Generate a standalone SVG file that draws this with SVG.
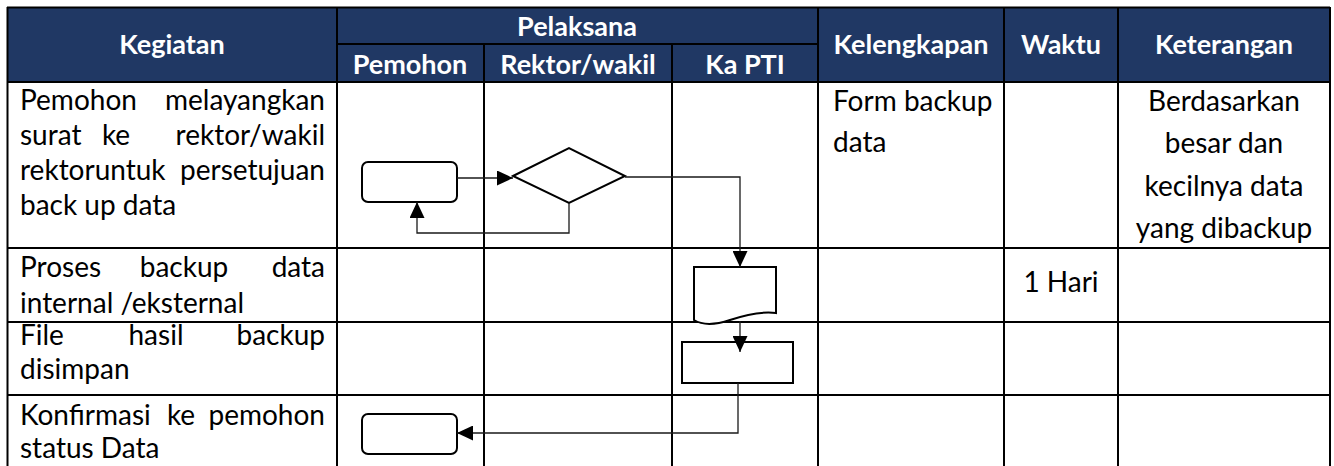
<svg xmlns="http://www.w3.org/2000/svg" width="1334" height="466" viewBox="0 0 1334 466">
  <style>
    .grid { stroke: #000; stroke-width: 2; fill: none; }
    .hdr { font-family: Lato, "Liberation Sans", sans-serif; font-weight: bold; font-size: 27px; fill: #fff; text-anchor: middle; }
    .txt { font-family: Lato, "Liberation Sans", sans-serif; font-size: 28px; fill: #000; }
    .mid { text-anchor: middle; }
    .end { text-anchor: end; }
    .shape { fill: #fff; stroke: #000; stroke-width: 2; }
    .conn { fill: none; stroke: #1a1a1a; stroke-width: 1.3; }
  </style>
  <defs>
    <marker id="arrow" markerUnits="userSpaceOnUse" markerWidth="17" markerHeight="15" refX="16" refY="7.5" orient="auto">
      <path d="M0,0 L16,7.5 L0,15 Z" fill="#000"/>
    </marker>
  </defs>

  <rect width="1334" height="466" fill="#fff"/>

  <!-- header band -->
  <rect x="7" y="7" width="1323" height="75" fill="#203864"/>

  <!-- table rules -->
  <g id="table-grid" class="grid">
    <line x1="7" y1="7.5" x2="1330" y2="7.5"/>
    <line x1="337" y1="44" x2="818" y2="44"/>
    <line x1="7" y1="82" x2="1330" y2="82"/>
    <line x1="7" y1="248" x2="1330" y2="248"/>
    <line x1="7" y1="322" x2="1330" y2="322"/>
    <line x1="7" y1="395" x2="1330" y2="395"/>
    <line x1="7.5" y1="7" x2="7.5" y2="466"/>
    <line x1="337" y1="7" x2="337" y2="466"/>
    <line x1="484" y1="44" x2="484" y2="466"/>
    <line x1="672" y1="44" x2="672" y2="466"/>
    <line x1="818" y1="7" x2="818" y2="466"/>
    <line x1="1004" y1="7" x2="1004" y2="466"/>
    <line x1="1118" y1="7" x2="1118" y2="466"/>
    <line x1="1330" y1="7" x2="1330" y2="466"/>
  </g>

  <!-- column headings -->
  <g id="headings">
    <text class="hdr" x="172" y="54">Kegiatan</text>
    <text class="hdr" x="577" y="36">Pelaksana</text>
    <text class="hdr" x="410" y="74">Pemohon</text>
    <text class="hdr" x="578" y="74">Rektor/wakil</text>
    <text class="hdr" x="745" y="74">Ka PTI</text>
    <text class="hdr" x="911" y="54">Kelengkapan</text>
    <text class="hdr" x="1061" y="54">Waktu</text>
    <text class="hdr" x="1224" y="54">Keterangan</text>
  </g>

  <!-- activity descriptions (justified) -->
  <g id="kegiatan" class="txt">
    <text x="20" y="110">Pemohon</text>
    <text class="end" x="325" y="110">melayangkan</text>
    <text x="20" y="145">surat</text>
    <text class="mid" x="116" y="145">ke</text>
    <text class="end" x="325" y="145">rektor/wakil</text>
    <text x="20" y="180">rektoruntuk</text>
    <text class="end" x="325" y="180">persetujuan</text>
    <text x="20" y="215">back up data</text>

    <text x="20" y="277">Proses</text>
    <text class="mid" x="184" y="277">backup</text>
    <text class="end" x="325" y="277">data</text>
    <text x="20" y="313">internal /eksternal</text>

    <text x="20" y="345">File</text>
    <text class="mid" x="156" y="345">hasil</text>
    <text class="end" x="325" y="345">backup</text>
    <text x="20" y="379">disimpan</text>

    <text x="20" y="425">Konfirmasi</text>
    <text class="mid" x="181" y="425">ke</text>
    <text class="end" x="325" y="425">pemohon</text>
    <text x="20" y="458">status Data</text>
  </g>

  <g id="kelengkapan" class="txt">
    <text x="833" y="111">Form backup</text>
    <text x="833" y="152">data</text>
  </g>

  <g id="waktu" class="txt">
    <text class="mid" x="1061" y="292">1 Hari</text>
  </g>

  <g id="keterangan" class="txt">
    <text class="mid" x="1224" y="111">Berdasarkan</text>
    <text class="mid" x="1224" y="153">besar dan</text>
    <text class="mid" x="1224" y="196">kecilnya data</text>
    <text class="mid" x="1224" y="238">yang dibackup</text>
  </g>

  <!-- flow nodes -->
  <g id="start-request">
    <rect class="shape" x="362" y="162" width="95" height="40" rx="6"/>
  </g>
  <g id="approval-decision">
    <polygon class="shape" points="513,176 569,148 625,176 569,203"/>
  </g>
  <g id="backup-document">
    <path class="shape" d="M694,267 H776 V313 C760,311 745,315 730,320 C715,325 702,325 694,320 Z"/>
  </g>
  <g id="store-process">
    <rect class="shape" x="682" y="342" width="111" height="41"/>
  </g>
  <g id="confirm-requester">
    <rect class="shape" x="362" y="414" width="95" height="40" rx="6"/>
  </g>

  <!-- connectors -->
  <g id="connectors" class="conn">
    <path d="M457,178 H513" marker-end="url(#arrow)"/>
    <path d="M625,177 H740 V267" marker-end="url(#arrow)"/>
    <path d="M569,203 V233 H417 V202" marker-end="url(#arrow)"/>
    <path d="M740,321 V352" marker-end="url(#arrow)"/>
    <path d="M738,383 V433 H457" marker-end="url(#arrow)"/>
  </g>
</svg>
